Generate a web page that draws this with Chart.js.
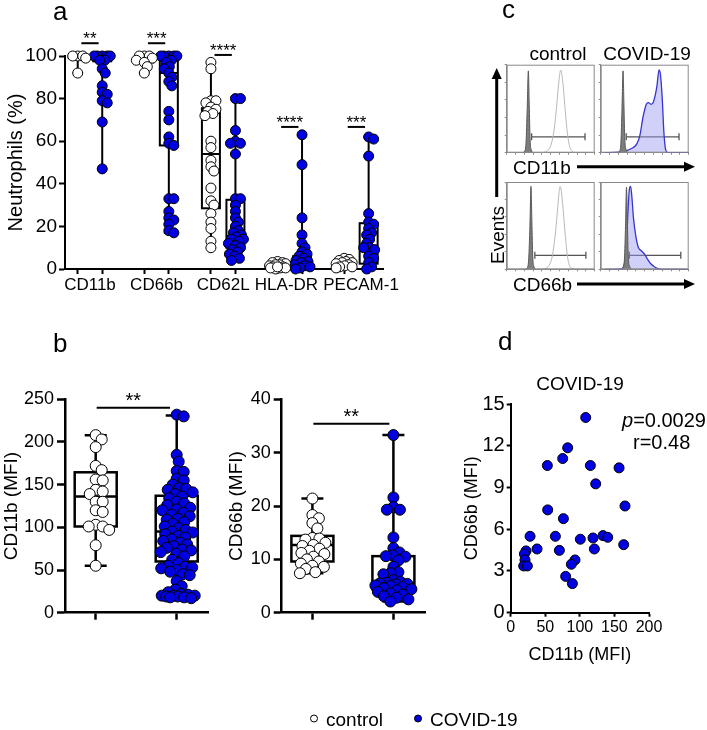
<!DOCTYPE html>
<html>
<head>
<meta charset="utf-8">
<script src="https://cdn.jsdelivr.net/npm/chart.js@4.4.0/dist/chart.umd.min.js"></script>
<style>
  body { margin: 0; background: #fff; }
  #page { position: relative; width: 707px; height: 730px; overflow: hidden; font-family: 'Liberation Sans', Arial, sans-serif; color: #000; }
  canvas { position: absolute; }
  .t { position: absolute; white-space: nowrap; line-height: 1; transform: translateY(-50%); }
  .c { transform: translate(-50%, -50%); }
  .dot { display: inline-block; width: 6px; height: 6px; border-radius: 50%; border: 1px solid #000; vertical-align: middle; margin-right: 8px; position: relative; top: -2px; }
</style>
</head>
<body>
<div id="page">
  <canvas id="chartA" width="400" height="300" style="left:0;top:0"></canvas>
  <canvas id="chartB1" width="220" height="250" style="left:0;top:380px"></canvas>
  <canvas id="chartB2" width="220" height="250" style="left:215px;top:380px"></canvas>
  <canvas id="chartD" width="267" height="300" style="left:440px;top:380px"></canvas>
  <canvas id="histTL" width="100" height="100" style="left:500px;top:58px"></canvas>
  <canvas id="histTR" width="100" height="100" style="left:594px;top:58px"></canvas>
  <canvas id="histBL" width="100" height="100" style="left:500px;top:176px"></canvas>
  <canvas id="histBR" width="100" height="100" style="left:594px;top:176px"></canvas>

  <svg width="707" height="730" style="position:absolute;left:0;top:0">
    <line x1="577" y1="166.7" x2="686" y2="166.7" stroke="#000" stroke-width="3"/>
    <polygon points="695,166.7 684,161.7 684,171.7" fill="#000"/>
    <line x1="577" y1="284" x2="686" y2="284" stroke="#000" stroke-width="3"/>
    <polygon points="695,284 684,279 684,289" fill="#000"/>
    <line x1="496.7" y1="197" x2="496.7" y2="78" stroke="#000" stroke-width="3"/>
    <polygon points="496.7,68 491.7,79 501.7,79" fill="#000"/>
  </svg>

  <div class="t" style="left:53px;top:11px;font-size:26px">a</div>
  <div class="t" style="left:53px;top:343px;font-size:26px">b</div>
  <div class="t" style="left:502px;top:9px;font-size:26px">c</div>
  <div class="t" style="left:498px;top:341px;font-size:26px">d</div>

  <div class="t c" style="left:558px;top:53px;font-size:19px">control</div>
  <div class="t c" style="left:647px;top:53px;font-size:19px">COVID-19</div>
  <div class="t" style="left:513px;top:167px;font-size:19px">CD11b</div>
  <div class="t" style="left:513px;top:284px;font-size:19px">CD66b</div>
  <div class="t c" style="left:497px;top:235px;font-size:19px;transform:translate(-50%,-50%) rotate(-90deg)">Events</div>

  <div class="t c" style="left:580px;top:383px;font-size:19px">COVID-19</div>
  <div class="t" style="left:622px;top:420px;font-size:20px"><i>p</i>=0.0029</div>
  <div class="t" style="left:633px;top:442px;font-size:20px">r=0.48</div>

  <div class="t" style="left:310px;top:719px;font-size:19px"><span class="dot" style="background:#fff"></span>control</div>
  <div class="t" style="left:414px;top:719px;font-size:19px"><span class="dot" style="background:#0000e0"></span>COVID-19</div>
</div>

<script>
// ---- panel a: % positive neutrophils ----
const groupsA = ['CD11b', 'CD66b', 'CD62L', 'HLA-DR', 'PECAM-1'];
const labelPosA = [0, 1, 2, 2.95, 4.07];
const ctlA = [
  [100, 100, 100, 99, 92],
  [100, 100, 100, 99, 98, 97, 95, 92],
  [97, 94, 79, 79, 78, 76, 75, 74, 73, 72, 60, 57, 51, 48, 46, 38, 32, 30, 26, 22, 19, 13, 10],
  [3.5, 3, 3, 2.5, 2, 2, 1.5, 1, 1, 0.5, 0.5, 0, 0.5, 1],
  [5, 4.5, 4, 3.5, 3, 3, 2.5, 2, 1.5, 1, 1, 0.5]
];
const covA = [
  [100, 100, 100, 100, 100, 98, 98, 94, 92, 86, 83, 82, 79, 78, 69, 47],
  [100, 100, 100, 100, 100, 98, 97, 95, 94, 92, 90, 88, 86, 74, 70, 62, 59, 58, 33, 33, 27, 24, 23, 21, 18, 17],
  [80, 80, 65, 60, 59, 59, 54, 33, 33, 30, 27, 24, 22, 20, 18, 17, 16, 15, 14, 14, 13, 12, 11, 10, 9, 8, 7, 6, 5, 4],
  [63, 49, 24, 16, 12, 10, 8, 7, 6, 5, 4, 3.5, 3, 2, 1.5, 1, 0.5, 0],
  [62, 61, 53, 26, 22, 21, 19, 17, 16, 14, 12, 10, 10, 9, 6, 5, 3, 1, 0]
];
// [min, q1, median, q3, max]
const ctlBoxA = [[92, 99, 100, 100, 100], [92, 97, 99, 100, 100], [10, 28.5, 54, 75.5, 97], [0, 0.5, 1, 2.5, 3.5], [0.5, 1, 2.5, 4, 5.5]];
const covBoxA = [[47, 97.5, 99.5, 100, 100], [17, 58, 92, 98, 100], [4, 10, 15.5, 32.5, 80.5], [0, 0.3, 3, 6, 63], [0, 2.5, 11, 21.5, 62]];
const sigTextA = ['**', '***', '****', '****', '***'];
const sigYA = [106, 106, 100.5, 66.7, 66.7];

// ---- panel b: MFI ----
const ctlCD11b = [208, 203, 194, 172, 167, 156, 155, 144, 142, 139, 130, 130, 120, 118, 103, 101, 101, 97, 79, 55];
const covCD11b = [232, 230, 185, 177, 166, 165, 157, 155, 150, 146, 145, 144, 141, 139, 136, 134, 130, 128, 126, 123,
  121, 120, 117, 115, 113, 110, 109, 106, 104, 101, 99, 97, 95, 94, 92, 90, 88, 86, 84, 82, 80, 78, 76, 74, 73, 71,
  69, 66, 62, 58, 55, 54, 53, 52, 50, 48, 45, 44, 37, 31, 27, 24, 22, 21, 20, 20, 20, 19, 19, 18, 18, 17];
const ctlCD66b = [21.4, 18.3, 17.7, 16.8, 15.8, 14, 13.9, 13.7, 13.1, 12.7, 12.5, 12, 11.6, 11.2, 11, 10.5, 10, 9.6, 9.2, 8.8, 8.6, 8.2, 7.6, 7.4];
const covCD66b = [33.3, 21.6, 19.8, 19.3, 19.3, 14.1, 12.1, 11.3, 10.7, 10.6, 10.5, 9.8, 8.6, 7.6, 7.4, 7.2, 6.1, 5.8,
  5.6, 5.5, 5.4, 5.3, 5.1, 5, 4.8, 4.6, 4.4, 4.2, 3.9, 3.6, 3.4, 3.1, 2.8, 2.5, 2.1];
const boxCD11b = [[55, 101, 136, 164.5, 208], [17, 60, 95, 137, 231]];
const boxCD66b = [[7.4, 9.6, 12.7, 14.4, 21.4], [2.1, 4.4, 5.5, 10.6, 33.3]];

// ---- panel d: correlation ----
const dCD11b = [108.5, 82.4, 75.2, 53, 115.2, 156.7, 122.9, 165.3, 53.5, 76.2, 28, 64.6, 100.7, 119, 133.5, 140.3,
  38.1, 70.4, 121, 163.4, 22.2, 19.8, 20.7, 18.8, 24.1, 93, 87.7, 79.5, 89.2];
const dCD66b = [14.03, 11.85, 11.08, 10.58, 10.58, 10.41, 9.26, 7.67, 7.39, 6.76, 5.49, 5.49, 5.28, 5.37, 5.54, 5.42,
  4.58, 4.48, 4.58, 4.89, 4.44, 4.22, 3.79, 3.36, 3.36, 3.79, 3.48, 2.61, 2.09];

// ---- panel c: histograms (x = % of axis, y = % of max) ----
const isoTL = [[18, 0], [20.5, 2], [22, 12], [23.3, 50], [24.6, 93], [25.6, 55], [26.6, 15], [28, 3], [30, 0]];
const ctlHist11b = [[38, 0], [44, 1], [48, 4], [51, 11], [54, 27], [56.5, 50], [58.8, 76], [60.5, 91], [61.4, 94], [62.5, 90],
  [64.3, 75], [66.5, 48], [69, 22], [71.5, 7], [74.5, 1.5], [78, 0]];
const isoTR = [[19, 0], [21.5, 2], [23, 12], [24.2, 50], [25.4, 93], [26.4, 55], [27.4, 15], [29, 3], [31, 0]];
const covHist11b = [[4, 0], [20, 0.5], [28, 2], [35.5, 5], [41, 10], [44.6, 20], [48, 40], [51.8, 55], [54.3, 57], [57.2, 55],
  [60, 58], [63.8, 75], [66.3, 94], [68, 88], [70, 60], [71.7, 25], [73.5, 5], [75.5, 0.5], [78, 0], [100, 0]];
const isoBL = [[21, 0], [23.5, 2], [25, 12], [26.4, 50], [27.6, 95], [28.6, 55], [29.6, 15], [31, 3], [33, 0]];
const ctlHist66b = [[40, 0], [45, 1.5], [49, 6], [52, 16], [55, 38], [57.5, 65], [59.5, 88], [60.7, 95], [62, 90], [64, 70],
  [66.5, 40], [69, 15], [71.5, 4], [74, 1], [77, 0]];
const isoBR = [[23, 0], [25.5, 2], [27, 12], [28.2, 50], [29.3, 94], [30.3, 55], [31.3, 15], [33, 3], [35, 0]];
const covHist66b = [[5, 0], [22, 0.3], [24.6, 1], [27.5, 10], [29.3, 30], [31.2, 70], [32.6, 92], [34, 95], [35.5, 82],
  [37.3, 58], [39.9, 38], [42.8, 25], [46.4, 21], [50, 17], [53.6, 11], [57.2, 6], [60.9, 3], [64.5, 1], [68, 0], [100, 0]];
// [start, end, height]
const gateTL = [28.3, 89, 18], gateTR = [29, 89, 18], gateBL = [32, 90, 16], gateBR = [32.6, 91, 16];

const BLUE = '#0000e0';
Chart.defaults.font.family = "'Liberation Sans', Arial, sans-serif";
Chart.defaults.color = '#000';

// box-and-whisker + significance bars drawn through the chart scales
const boxPlugin = {
  id: 'boxes',
  beforeDatasetsDraw(chart, args, opts) {
    const {ctx, scales: {x, y}} = chart;
    ctx.save();
    ctx.strokeStyle = '#000';
    ctx.lineWidth = opts.lineWidth;
    (opts.items || []).forEach(b => {
      const cx = x.getPixelForValue(b.x);
      const [mn, q1, md, q3, mx] = b.stats.map(v => y.getPixelForValue(v));
      const hw = opts.width / 2, cw = opts.cap / 2;
      ctx.beginPath();
      ctx.moveTo(cx, mx); ctx.lineTo(cx, q3);
      ctx.moveTo(cx, q1); ctx.lineTo(cx, mn);
      ctx.moveTo(cx - cw, mx); ctx.lineTo(cx + cw, mx);
      ctx.moveTo(cx - cw, mn); ctx.lineTo(cx + cw, mn);
      ctx.moveTo(cx - hw, md); ctx.lineTo(cx + hw, md);
      ctx.stroke();
      ctx.strokeRect(cx - hw, q3, hw * 2, q1 - q3);
    });
    ctx.restore();
  },
  afterDatasetsDraw(chart, args, opts) {
    const {ctx, scales: {x, y}} = chart;
    ctx.save();
    ctx.strokeStyle = '#000';
    ctx.fillStyle = '#000';
    ctx.lineWidth = 2;
    ctx.textAlign = 'center';
    ctx.textBaseline = 'alphabetic';
    ctx.font = opts.starSize + "px 'Liberation Sans', Arial, sans-serif";
    (opts.sig || []).forEach(s => {
      const x1 = x.getPixelForValue(s.x1), x2 = x.getPixelForValue(s.x2), yy = y.getPixelForValue(s.y);
      ctx.beginPath();
      ctx.moveTo(x1, yy); ctx.lineTo(x2, yy);
      ctx.stroke();
      ctx.fillText(s.text, (x1 + x2) / 2, yy + opts.starOffset);
    });
    ctx.restore();
  }
};

// spread points of one column sideways, allowing overlap once the column is full
function swarm(chart, gap, maxW) {
  const xs = chart.scales.x, ys = chart.scales.y;
  const cands = [0];
  for (let d = 0.5; d <= maxW; d += 0.5) cands.push(d, -d);
  chart.data.datasets.forEach(ds => {
    const groups = new Map();
    ds.data.forEach(p => {
      if (!groups.has(p.c)) groups.set(p.c, []);
      groups.get(p.c).push(p);
    });
    groups.forEach((pts, c) => {
      const cx = xs.getPixelForValue(c);
      const placed = [];
      pts.slice().sort((a, b) => b.y - a.y).forEach(p => {
        const py = ys.getPixelForValue(p.y);
        let best = 0, bestScore = -1;
        for (const dx of cands) {
          let m = Infinity;
          placed.forEach(q => { m = Math.min(m, Math.hypot(q[0] - dx, q[1] - py)); });
          if (m >= gap) { best = dx; break; }
          if (m > bestScore + 0.01) { bestScore = m; best = dx; }
        }
        placed.push([best, py]);
        p.x = xs.getValueForPixel(cx + best);
      });
    });
  });
  chart.update('none');
}

function points(lists, offset) {
  const out = [];
  lists.forEach((vals, i) => vals.forEach(v => out.push({x: i + offset, y: v, c: i + offset})));
  return out;
}

function dotSet(data, fill, r) {
  return {data: data, backgroundColor: fill, borderColor: '#000', borderWidth: 1, pointRadius: r, clip: false};
}

const baseOpts = {
  responsive: false,
  animation: false,
  events: [],
  plugins: {legend: {display: false}, tooltip: {enabled: false}}
};

// ---------- panel a ----------
const pairOff = 0.184;
const pairTicks = [];
groupsA.forEach((g, i) => { pairTicks.push(i - pairOff, i + pairOff); });

const chartA = new Chart(document.getElementById('chartA'), {
  type: 'scatter',
  data: {datasets: [dotSet(points(ctlA, -pairOff), '#fff', 5), dotSet(points(covA, pairOff), BLUE, 5)]},
  plugins: [boxPlugin],
  options: {
    ...baseOpts,
    layout: {padding: {top: 56, right: 10, left: 0, bottom: 0}},
    plugins: {
      ...baseOpts.plugins,
      boxes: {
        lineWidth: 2, width: 18, cap: 10, starSize: 17, starOffset: 1,
        items: ctlBoxA.map((s, i) => ({x: i - pairOff, stats: s})).concat(covBoxA.map((s, i) => ({x: i + pairOff, stats: s}))),
        sig: sigTextA.map((t, i) => ({text: t, x1: i - 0.13, x2: i + 0.13, y: sigYA[i]}))
      }
    },
    scales: {
      x: {
        type: 'linear', min: -0.375, max: 4.404,
        afterBuildTicks: s => { s.ticks = pairTicks.map(v => ({value: v})); },
        ticks: {display: false},
        grid: {drawOnChartArea: false, tickLength: 5, tickWidth: 2, tickColor: '#000'},
        border: {color: '#000', width: 2},
        afterFit: s => { s.height = 6; }
      },
      x2: {
        type: 'linear', position: 'bottom', min: -0.375, max: 4.404,
        afterBuildTicks: s => { s.ticks = labelPosA.map(v => ({value: v})); },
        ticks: {callback: (v, i) => groupsA[i], font: {size: 17}, color: '#000', padding: 0, autoSkip: false, maxRotation: 0},
        grid: {display: false, drawTicks: false},
        border: {display: false},
        afterFit: s => { s.height = 25; }
      },
      y: {
        min: 0, max: 100,
        ticks: {stepSize: 20, font: {size: 19}, color: '#000', padding: 2},
        grid: {drawOnChartArea: false, tickLength: 6, tickWidth: 2, tickColor: '#000'},
        border: {color: '#000', width: 2},
        title: {display: true, text: 'Neutrophils (%)', font: {size: 20}, color: '#000', padding: {top: 4, bottom: 0}},
        afterFit: s => { s.width = 65; }
      }
    }
  }
});
swarm(chartA, 5, 8);

// ---------- panel b ----------
function makeB(id, ctl, cov, boxes, yMax, step, title, sig, yWidth, titlePad) {
  const chart = new Chart(document.getElementById(id), {
    type: 'scatter',
    data: {datasets: [dotSet(points([ctl], 0), '#fff', 5.5), dotSet(points([cov], 1), BLUE, 5.5)]},
    plugins: [boxPlugin],
    options: {
      ...baseOpts,
      layout: {padding: {top: 19.3, right: 220 - yWidth - 143.3, left: 0, bottom: 0}},
      plugins: {
        ...baseOpts.plugins,
        boxes: {
          lineWidth: 2.5, width: 42, cap: 22, starSize: 20, starOffset: -1,
          items: [{x: 0, stats: boxes[0]}, {x: 1, stats: boxes[1]}],
          sig: [sig]
        }
      },
      scales: {
        x: {
          type: 'linear', min: -0.379, max: 1.39,
          afterBuildTicks: s => { s.ticks = [{value: 0}, {value: 1}]; },
          ticks: {display: false},
          grid: {drawOnChartArea: false, tickLength: 7, tickWidth: 2.5, tickColor: '#000'},
          border: {color: '#000', width: 2.5},
          afterFit: s => { s.height = 17.3; }
        },
        y: {
          min: 0, max: yMax,
          ticks: {stepSize: step, font: {size: 18}, color: '#000', padding: 3},
          grid: {drawOnChartArea: false, tickLength: 8, tickWidth: 2.5, tickColor: '#000'},
          border: {color: '#000', width: 2.5},
          title: {display: true, text: title, font: {size: 19}, color: '#000', padding: {top: titlePad, bottom: 0}},
          afterFit: s => { s.width = yWidth; }
        }
      }
    }
  });
  swarm(chart, 7, 18);
}
makeB('chartB1', ctlCD11b, covCD11b, boxCD11b, 250, 50, 'CD11b (MFI)', {text: '**', x1: 0.012, x2: 0.917, y: 240.2}, 65, 0);
makeB('chartB2', ctlCD66b, covCD66b, boxCD66b, 40, 10, 'CD66b (MFI)', {text: '**', x1: 0.012, x2: 0.95, y: 35.4}, 66.7, 10);

// ---------- panel d ----------
new Chart(document.getElementById('chartD'), {
  type: 'scatter',
  data: {datasets: [{
    data: dCD11b.map((v, i) => ({x: v, y: dCD66b[i]})),
    backgroundColor: BLUE, borderColor: '#000', borderWidth: 1, pointRadius: 5, clip: false
  }]},
  options: {
    ...baseOpts,
    layout: {padding: {top: 24, right: 58, left: 0, bottom: 0}},
    scales: {
      x: {
        min: 0, max: 200,
        ticks: {stepSize: 50, font: {size: 16}, color: '#000', padding: 1, maxRotation: 0},
        grid: {drawOnChartArea: false, tickLength: 4, tickWidth: 2, tickColor: '#000'},
        border: {color: '#000', width: 2},
        title: {display: true, text: 'CD11b (MFI)', font: {size: 18}, color: '#000', padding: {top: 0, bottom: 14}},
        afterFit: s => { s.height = 67.3; }
      },
      y: {
        min: 0, max: 15,
        ticks: {stepSize: 3, font: {size: 20}, color: '#000', padding: 2},
        grid: {drawOnChartArea: false, tickLength: 4, tickWidth: 2, tickColor: '#000'},
        border: {color: '#000', width: 2},
        title: {display: true, text: 'CD66b (MFI)', font: {size: 18}, color: '#000', padding: {top: 21, bottom: 0}},
        afterFit: s => { s.width = 70.7; }
      }
    }
  }
});

// ---------- panel c ----------
const framePlugin = {
  id: 'frame',
  afterDraw(chart) {
    const {ctx, chartArea: a} = chart;
    ctx.save();
    ctx.strokeStyle = '#8a8a8a';
    ctx.lineWidth = 1;
    ctx.strokeRect(a.left + 0.5, a.top + 0.5, a.right - a.left - 1, a.bottom - a.top - 1);
    ctx.restore();
  }
};

function xy(arr) { return arr.map(p => ({x: p[0], y: p[1]})); }

function makeHist(id, iso, curve, gate, covid, padTop, padRight, xHeight) {
  new Chart(document.getElementById(id), {
    type: 'line',
    data: {datasets: [
      {data: xy(iso), borderColor: '#5a5a5a', borderWidth: 1, backgroundColor: '#7d7d7d', fill: 'origin',
        pointRadius: 0, cubicInterpolationMode: 'monotone'},
      {data: xy(curve), borderColor: covid ? '#3535d0' : '#b8b8b8', borderWidth: covid ? 1.3 : 1,
        backgroundColor: covid ? 'rgba(150,150,240,0.45)' : 'transparent', fill: covid ? 'origin' : false,
        pointRadius: 0, cubicInterpolationMode: 'monotone'},
      {data: [{x: gate[0], y: gate[2]}, {x: gate[1], y: gate[2]}], borderColor: '#555', borderWidth: 1.3,
        pointStyle: 'line', rotation: 90, pointRadius: 3.5, pointBorderColor: '#555', pointBorderWidth: 1.3, fill: false}
    ]},
    plugins: [framePlugin],
    options: {
      ...baseOpts,
      layout: {padding: {top: padTop, right: padRight, left: 0, bottom: 0}},
      scales: {
        x: {
          type: 'linear', min: 0, max: 100,
          ticks: {display: false, stepSize: 10},
          grid: {drawOnChartArea: false, tickLength: 2, tickColor: '#8a8a8a'},
          border: {color: '#8a8a8a', width: 1},
          afterFit: s => { s.height = xHeight; }
        },
        y: {
          min: 0, max: 100,
          ticks: {display: false, stepSize: 20},
          grid: {drawOnChartArea: false, tickLength: 2, tickColor: '#8a8a8a'},
          border: {color: '#8a8a8a', width: 1},
          afterFit: s => { s.width = 6.7; }
        }
      }
    }
  });
}
makeHist('histTL', isoTL, ctlHist11b, gateTL, false, 6.7, 2.7, 5);
makeHist('histTR', isoTR, covHist11b, gateTR, true, 6.7, 1.3, 5);
makeHist('histBL', isoBL, ctlHist66b, gateBL, false, 6, 2.7, 6.7);
makeHist('histBR', isoBR, covHist66b, gateBR, true, 6, 1.3, 6.7);
</script>
</body>
</html>
